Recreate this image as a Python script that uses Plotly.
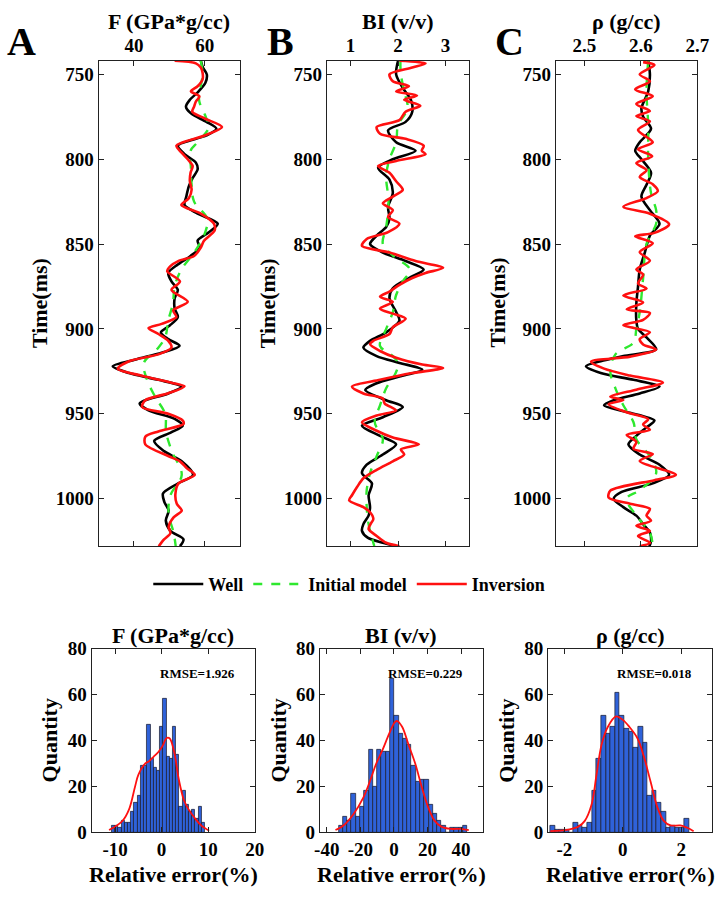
import numpy as np
import plotly.graph_objects as go

W, H = 726, 899
FONT = "Liberation Serif"

# ---------------- well log panels (time in ms) ----------------
# F (GPa*g/cc)
f_well_t = [742, 746, 750, 755, 760, 765, 769, 773, 778, 782, 786, 792, 797, 802, 806, 811, 816, 822,
            827, 832, 838, 843, 848, 852, 857, 862, 867, 872, 877, 882, 888, 893, 898, 902, 906, 910,
            914, 918, 922, 926, 930, 934, 938, 942, 944, 948, 953, 957, 961, 966, 972, 978, 986, 991,
            997, 1002, 1007, 1013, 1019, 1024, 1028]
f_well = [58.9, 59.5, 60.6, 60.2, 58.3, 55.8, 54.7, 56.1, 60.5, 63.3, 60.5, 52.4, 54.3, 57.5, 58.0,
          56.6, 55.5, 54.8, 54.3, 58.0, 63.7, 61.2, 58.0, 58.6, 56.0, 52.4, 49.7, 50.6, 52.4, 51.5,
          51.5, 52.4, 50.1, 47.6, 49.7, 52.9, 47.8, 40.5, 34.0, 38.6, 46.9, 53.4, 49.7, 43.2, 41.6,
          44.1, 51.5, 53.8, 50.5, 45.7, 48.5, 53.5, 56.7, 52.5, 48.2, 48.6, 49.8, 49.0, 50.3, 54.0, 53.0]
f_init_t = [742, 750, 765, 775, 781, 790, 795, 805, 815, 825, 835, 845, 855, 865, 875, 885, 895, 905,
            912, 920, 930, 940, 950, 961, 972, 986, 998, 1009, 1020, 1028]
f_init = [58.9, 59.4, 58.4, 60.3, 61.2, 58.0, 56.0, 56.1, 56.3, 57.0, 60.7, 59.8, 57.0, 53.4, 51.5,
          51.0, 49.7, 48.8, 46.5, 42.8, 43.7, 46.0, 48.8, 49.1, 50.7, 53.5, 50.3, 49.8, 51.2, 51.8]
f_inv_t = [742, 743.5, 746, 749, 753, 757, 760, 763, 766, 769, 772, 776, 781, 786, 792, 796, 800, 804,
           808, 813, 818, 823, 827, 832, 838, 842, 848, 852, 857, 860, 863, 866, 872, 877, 884, 889,
           893, 897, 899.5, 903, 907, 911, 915, 919, 923.5, 927.6, 931.7, 933.8, 937.9, 942, 946, 950,
           954, 956, 960.4, 963.5, 968, 975, 978, 982, 986, 991, 997.5, 1003, 1007, 1011, 1016.6,
           1020.4, 1024, 1028]
f_inv = [51.5, 57.5, 58.9, 59.4, 59.4, 58.0, 56.1, 58.5, 57.5, 57.0, 56.5, 60.0, 64.9, 60.0, 52.0,
         53.4, 55.2, 56.6, 56.0, 55.8, 56.3, 55.5, 53.4, 58.9, 62.6, 62.8, 59.8, 58.9, 57.0, 52.5,
         50.3, 49.4, 53.0, 50.6, 55.2, 51.1, 52.0, 47.8, 44.1, 46.9, 49.7, 50.6, 46.9, 38.6, 35.4,
         42.3, 50.6, 54.3, 49.7, 43.2, 42.3, 49.7, 53.8, 54.0, 46.9, 43.2, 43.2, 49.8, 53.0, 54.9,
         57.2, 52.6, 51.7, 52.1, 53.5, 51.2, 49.8, 50.3, 48.5, 47.0]

# BI (v/v)
bi_well_t = [742, 750, 758, 765, 772, 778, 783, 790, 795, 800, 805, 812, 820, 828, 835, 840, 845, 850,
             855, 860, 865, 870, 876, 882, 890, 895, 902, 907, 911, 916, 920, 924, 928, 932, 936, 942,
             946, 952, 957, 963, 968, 974, 980, 985, 991, 998, 1005, 1010, 1015, 1019, 1023, 1026, 1028]
bi_well = [2.0, 1.96, 2.1, 2.27, 2.3, 2.16, 1.79, 1.96, 2.37, 1.89, 1.58, 1.82, 1.89, 1.79, 1.82,
           1.75, 1.55, 1.41, 1.68, 2.16, 2.54, 2.23, 1.89, 1.82, 1.96, 2.03, 1.75, 1.41, 1.27, 1.55,
           2.03, 2.51, 2.03, 1.55, 1.31, 1.75, 2.1, 1.68, 1.24, 1.62, 1.96, 1.68, 1.34, 1.24, 1.45,
           1.38, 1.41, 1.38, 1.27, 1.24, 1.36, 1.68, 1.96]
bi_init_t = [742, 750, 760, 770, 780, 790, 800, 810, 825, 840, 850, 857, 865, 872, 880, 890, 900, 910,
             915, 920, 926, 935, 945, 955, 965, 975, 985, 995, 1005, 1015, 1028]
bi_init = [2.05, 2.06, 2.13, 2.2, 2.0, 1.96, 1.82, 1.75, 1.8, 1.75, 1.68, 1.9, 2.25, 2.1, 1.96, 1.89,
           1.75, 1.62, 1.85, 2.0, 1.95, 1.75, 1.62, 1.51, 1.68, 1.55, 1.41, 1.34, 1.34, 1.38, 1.5]
bi_inv_t = [742, 743.5, 746, 750, 754, 757, 760, 762.5, 765, 768.5, 772, 777, 781, 785, 788, 792, 795,
            797, 801, 804, 808, 813, 818, 822, 826, 830, 834, 838, 843, 847, 851, 855, 860, 864, 867,
            870, 874, 878, 881, 884, 888, 891, 894, 899, 903, 907, 909, 913, 917, 921, 923, 926, 930,
            934, 938, 941, 944, 948, 951, 955, 960, 964, 968, 971, 974, 978, 983, 988, 993, 998, 1001,
            1005, 1008, 1012, 1015, 1018, 1022, 1026, 1028]
bi_inv = [2.03, 2.58, 2.3, 1.82, 1.89, 2.23, 1.96, 2.4, 2.13, 2.47, 2.16, 2.03, 1.55, 1.62, 2.16,
          2.54, 2.5, 2.58, 1.96, 1.58, 1.82, 1.96, 2.1, 1.89, 1.68, 1.89, 1.79, 2.03, 1.79, 1.34,
          1.24, 1.82, 2.37, 2.95, 2.58, 2.3, 2.03, 1.82, 1.62, 1.89, 1.62, 1.89, 2.16, 1.89, 1.82,
          1.48, 1.41, 1.62, 1.96, 2.51, 2.95, 2.3, 1.62, 1.03, 1.27, 1.68, 1.72, 1.96, 1.55, 1.24,
          1.55, 1.89, 2.44, 2.06, 2.13, 1.89, 1.55, 1.27, 1.14, 1.03, 0.97, 1.27, 1.41, 1.48, 1.42,
          1.38, 1.55, 1.75, 2.03]

# rho (g/cc)
rho_well_t = [742, 750, 760, 770, 775, 782, 790, 795, 800, 808, 815, 822, 830, 838, 845, 855, 865, 875,
              885, 895, 900, 905, 912, 916, 919, 922, 926, 930, 934, 938, 942, 945, 949, 954, 958, 963,
              968, 974, 980, 986, 991, 996, 1000, 1005, 1010, 1015, 1020, 1025, 1028]
rho_well = [2.613, 2.616, 2.613, 2.601, 2.604, 2.618, 2.598, 2.59, 2.601, 2.618, 2.61, 2.601, 2.616,
            2.633, 2.616, 2.607, 2.598, 2.595, 2.592, 2.592, 2.595, 2.61, 2.627, 2.569, 2.529, 2.503,
            2.529, 2.587, 2.633, 2.598, 2.552, 2.535, 2.575, 2.624, 2.61, 2.592, 2.578, 2.598, 2.633,
            2.65, 2.621, 2.566, 2.552, 2.569, 2.592, 2.604, 2.616, 2.618, 2.615]
rho_init_t = [742, 760, 780, 800, 820, 830, 838, 850, 870, 890, 900, 908, 915, 925, 935, 945, 955, 965,
              975, 985, 995, 1000, 1010, 1020, 1028]
rho_init = [2.613, 2.61, 2.613, 2.613, 2.618, 2.627, 2.627, 2.61, 2.604, 2.598, 2.592, 2.587, 2.555,
            2.546, 2.555, 2.569, 2.587, 2.592, 2.616, 2.627, 2.598, 2.575, 2.592, 2.616, 2.621]
rho_inv_t = [742.8, 744.5, 750, 754.1, 758.8, 762.9, 767.4, 771.6, 774.6, 777.7, 782.8, 790, 794.1,
             798.2, 802.3, 806.4, 810.5, 814.7, 818.8, 822.9, 828, 832.1, 838.3, 843.4, 845.4, 849.5,
             854.7, 859.8, 864.9, 868, 873.2, 876.2, 880.3, 884.4, 888.5, 890.6, 894.7, 897.8, 901.9,
             906, 909.1, 912.2, 916.3, 919.3, 923.4, 927.5, 931.6, 935.8, 939.9, 941.9, 944.4, 949.1,
             953.2, 956.3, 959.4, 962.4, 966.5, 970.6, 973.7, 977.8, 986, 989.1, 995.3, 999.4, 1003,
             1006, 1010, 1013, 1016, 1019, 1022, 1026, 1028]
rho_inv = [2.604, 2.624, 2.598, 2.616, 2.59, 2.621, 2.592, 2.616, 2.592, 2.616, 2.595, 2.621, 2.595,
           2.62, 2.592, 2.61, 2.598, 2.621, 2.63, 2.61, 2.569, 2.616, 2.65, 2.624, 2.59, 2.621, 2.598,
           2.616, 2.592, 2.604, 2.595, 2.61, 2.569, 2.604, 2.575, 2.616, 2.604, 2.569, 2.616, 2.598,
           2.604, 2.627, 2.581, 2.512, 2.535, 2.581, 2.639, 2.592, 2.546, 2.569, 2.543, 2.575, 2.613,
           2.604, 2.616, 2.575, 2.592, 2.587, 2.621, 2.598, 2.662, 2.624, 2.546, 2.543, 2.581, 2.616,
           2.61, 2.618, 2.592, 2.616, 2.595, 2.616, 2.598]

# ---------------- relative error histograms ----------------
f_bin_start, f_bin_width = -10.7, 0.69
f_counts = [3, 3, 2, 5, 4, 4, 9, 13, 16, 29, 29, 47, 32, 28, 27, 46, 58, 33, 32, 46, 34, 11, 18, 12,
            9, 10, 6, 11, 4]
f_kde_x = [-11.3, -10.4, -8.4, -7, -5.7, -5, -3.5, -2.7, -1.7, -0.7, 0.3, 1.0, 1.7, 2.7, 3.7, 4.8,
           5.8, 7.2, 8.5, 10.2]
f_kde_y = [1, 2, 5, 10, 20, 25, 30, 31, 33, 35, 38, 41, 41, 35, 23, 14, 10, 6, 3, 0.7]

bi_bin_start, bi_bin_width = -32.9, 2.55
bi_counts = [3, 7, 5, 17, 7, 11, 18, 36, 20, 36, 35, 35, 67, 51, 43, 41, 38, 29, 22, 23, 23, 12, 8,
             5, 3, 0, 2, 2, 2, 3]
bi_kde_x = [-34.8, -30, -24, -18.3, -14.4, -10.5, -6.7, -2.8, 0.6, 2, 4.9, 8.8, 12.7, 16.5, 20.4,
            24.3, 28.2, 34, 39.8, 44.6]
bi_kde_y = [1, 3, 8, 15, 22, 30, 36, 43, 48, 48.5, 46, 38, 30, 20, 11, 5, 2.5, 1.5, 1.5, 1]

rho_bin_start, rho_bin_width = -2.48, 0.158
rho_counts = [3, 1, 1, 1, 0, 4, 3, 2, 4, 18, 32, 51, 43, 46, 61, 51, 45, 44, 37, 46, 39, 16, 18, 13,
              9, 2, 3, 2, 2, 6]
rho_kde_x = [-2.48, -1.86, -1.52, -1.3, -1.07, -0.9, -0.73, -0.51, -0.23, 0.0, 0.22, 0.5, 0.72, 0.95,
             1.18, 1.4, 1.63, 1.97, 2.2, 2.42]
rho_kde_y = [0.5, 1.2, 2.5, 5, 12, 25, 38, 46, 50.5, 49, 46, 41, 33, 22, 11, 5, 3, 3, 2, 0.5]

rmse_labels = ["RMSE=1.926", "RMSE=0.229", "RMSE=0.018"]
titles = ["F (GPa*g/cc)", "BI (v/v)", "ρ (g/cc)"]


def px(x):
    return x / W


def py(y):
    return 1 - y / H


fig = go.Figure()

# top panels: x pixel extents, x ranges, ticks
log_panels = [
    dict(x0=95, x1=240, rng=[30, 70], ticks=[40, 60], ticktext=["40", "60"],
         well=(f_well, f_well_t), init=(f_init, f_init_t), inv=(f_inv, f_inv_t)),
    dict(x0=329, x1=475, rng=[0.5, 3.5], ticks=[1, 2, 3], ticktext=["1", "2", "3"],
         well=(bi_well, bi_well_t), init=(bi_init, bi_init_t), inv=(bi_inv, bi_inv_t)),
    dict(x0=564, x1=709, rng=[2.45, 2.7], ticks=[2.5, 2.6, 2.7], ticktext=["2.5", "2.6", "2.7"],
         well=(rho_well, rho_well_t), init=(rho_init, rho_init_t), inv=(rho_inv, rho_inv_t)),
]

bold = dict(family=FONT, weight="bold", color="black")
axis_common = dict(showline=True, linecolor="#222", linewidth=1.3, mirror="ticks", ticks="inside",
                   ticklen=5, tickcolor="#222", showgrid=False, zeroline=False)

for i, p in enumerate(log_panels):
    n = "" if i == 0 else str(i + 1)
    xa, ya = "x" + n, "y" + n
    fig.add_trace(go.Scatter(x=p["well"][0], y=p["well"][1], xaxis=xa, yaxis=ya, mode="lines",
                             line=dict(color="black", width=2.6, shape="spline", smoothing=0.8),
                             name="Well", showlegend=(i == 0)))
    fig.add_trace(go.Scatter(x=p["init"][0], y=p["init"][1], xaxis=xa, yaxis=ya, mode="lines",
                             line=dict(color="#2ee82e", width=2.4, dash="dash", shape="spline",
                                       smoothing=1.0),
                             name="Initial model", showlegend=(i == 0)))
    fig.add_trace(go.Scatter(x=p["inv"][0], y=p["inv"][1], xaxis=xa, yaxis=ya, mode="lines",
                             line=dict(color="#ff1010", width=2.6, shape="spline", smoothing=0.8),
                             name="Inversion", showlegend=(i == 0)))
    fig.layout["xaxis" + n] = dict(axis_common, domain=[px(p["x0"]), px(p["x1"])], range=p["rng"],
                                   side="top", tickvals=p["ticks"], ticktext=p["ticktext"],
                                   tickfont=dict(bold, size=19), anchor=ya)
    fig.layout["yaxis" + n] = dict(axis_common, domain=[py(549), py(52)], range=[1028, 742],
                                   tickvals=[750, 800, 850, 900, 950, 1000],
                                   tickfont=dict(bold, size=19), anchor=xa)

# histograms
hist_panels = [
    dict(x0=88, x1=255, rng=[-15, 20], ticks=[-10, 0, 10, 20],
         start=f_bin_start, width=f_bin_width, counts=f_counts, kx=f_kde_x, ky=f_kde_y),
    dict(x0=322, x1=489, rng=[-44, 53], ticks=[-40, -20, 0, 20, 40],
         start=bi_bin_start, width=bi_bin_width, counts=bi_counts, kx=bi_kde_x, ky=bi_kde_y),
    dict(x0=556, x1=724, rng=[-2.55, 3.05], ticks=[-2, 0, 2],
         start=rho_bin_start, width=rho_bin_width, counts=rho_counts, kx=rho_kde_x, ky=rho_kde_y),
]

for i, h in enumerate(hist_panels):
    n = str(i + 4)
    xa, ya = "x" + n, "y" + n
    centers = h["start"] + h["width"] * (np.arange(len(h["counts"])) + 0.5)
    fig.add_trace(go.Bar(x=centers, y=h["counts"], width=h["width"], xaxis=xa, yaxis=ya,
                         marker=dict(color="#2f62d9", line=dict(color="#1a1a2a", width=0.7)),
                         showlegend=False))
    fig.add_trace(go.Scatter(x=h["kx"], y=h["ky"], xaxis=xa, yaxis=ya, mode="lines",
                             line=dict(color="#ff1010", width=1.8, shape="spline"),
                             showlegend=False))
    fig.layout["xaxis" + n] = dict(axis_common, domain=[px(h["x0"]), px(h["x1"])], range=h["rng"],
                                   tickvals=h["ticks"], ticktext=[str(v) for v in h["ticks"]],
                                   tickfont=dict(bold, size=19), anchor=ya)
    fig.layout["yaxis" + n] = dict(axis_common, domain=[py(842), py(654)], range=[0, 80],
                                   tickvals=[0, 20, 40, 60, 80], tickfont=dict(bold, size=19),
                                   anchor=xa)

# text annotations
ann = []
for p, t, letter, lx in zip(log_panels, titles, ["A", "B", "C"], [16, 281, 516]):
    cx = (p["x0"] + p["x1"]) / 2
    ann.append(dict(x=px(cx), y=py(12), text=t, font=dict(bold, size=22)))
    ann.append(dict(x=px(lx), y=py(32), text=letter, font=dict(bold, size=40)))
    ann.append(dict(x=px(p["x0"] - 60), y=py(300), text="Time(ms)", textangle=-90,
                    font=dict(bold, size=22)))

for h, t, r in zip(hist_panels, titles, rmse_labels):
    cx = (h["x0"] + h["x1"]) / 2
    ann.append(dict(x=px(cx), y=py(640), text=t, font=dict(bold, size=22)))
    ann.append(dict(x=px(h["x0"] - 43), y=py(748), text="Quantity", textangle=-90,
                    font=dict(bold, size=22)))
    ann.append(dict(x=px(cx), y=py(885), text="Relative error(%)", font=dict(bold, size=22)))
    ann.append(dict(x=px(h["x1"] - 18), y=py(679), text=r, xanchor="right",
                    font=dict(bold, size=13)))

for a in ann:
    a.update(xref="paper", yref="paper", showarrow=False)
    a.setdefault("xanchor", "center")
    a.setdefault("yanchor", "middle")

fig.update_layout(
    width=W, height=H,
    margin=dict(l=0, r=0, t=0, b=0),
    paper_bgcolor="white", plot_bgcolor="white",
    font=dict(family=FONT, weight="bold", color="black"),
    annotations=ann,
    legend=dict(orientation="h", x=px(352), y=py(588), xanchor="center", yanchor="middle",
                font=dict(bold, size=18), itemwidth=50, bgcolor="rgba(0,0,0,0)"),
    bargap=0,
)

# drop the page margin so the figure sits at the window corner
fig.write_html("out.html", config={"displayModeBar": False},
               post_script="document.body.style.margin='0px';")
